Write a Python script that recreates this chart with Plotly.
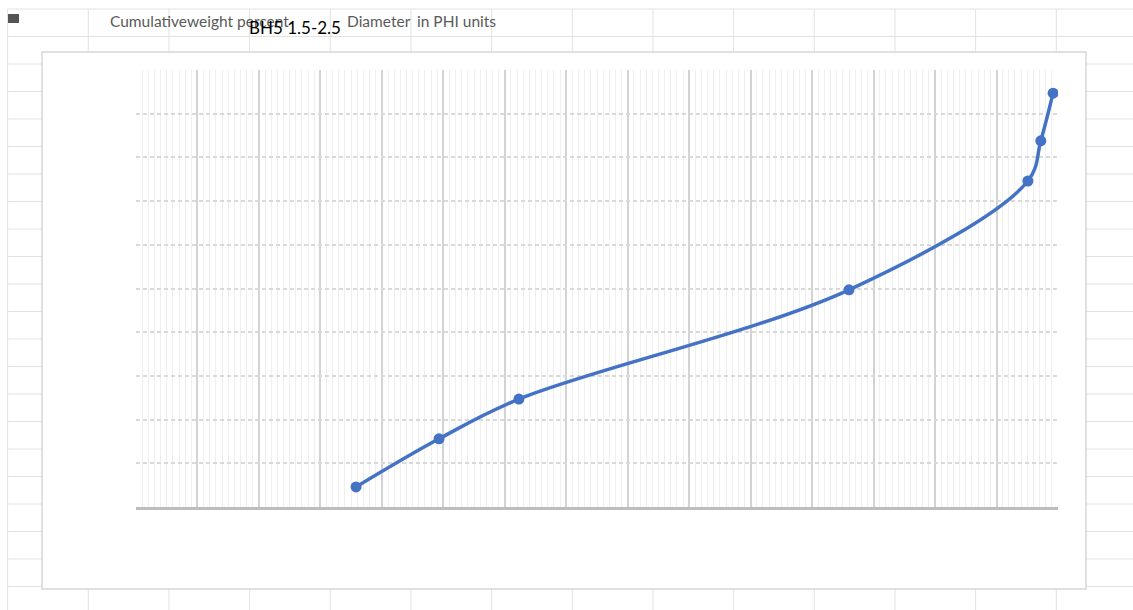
import plotly.graph_objects as go

W, H = 1133, 610

# ---- data (axis has no visible labels) ----
x_values = [3.58, 4.93, 6.23, 11.60, 14.51, 14.72, 14.92]
y_values = [4.6, 15.6, 24.7, 49.7, 74.6, 83.8, 94.7]
x_range = [0, 15]
y_range = [0, 100]
y_grid = [0, 10, 20, 30, 40, 50, 60, 70, 80, 90]

chart_title = "BH5 1.5-2.5"
cell_text_1 = "Cumulativeweight percent"
cell_text_2 = "Diameter"
cell_text_3 = "in PHI units"


def px(x):
    return x / W


def py(y):
    return 1 - y / H


shapes = []
sheet_line = dict(color="#e2e2e2", width=1)
# spreadsheet rows
y = 9.0
while y < H:
    shapes.append(dict(type="line", xref="paper", yref="paper", x0=px(7.6), x1=1,
                       y0=py(y), y1=py(y), line=sheet_line, layer="below"))
    y += 27.5
# spreadsheet columns
x = 7.6
while x < W:
    shapes.append(dict(type="line", xref="paper", yref="paper", x0=px(x), x1=px(x),
                       y0=py(9), y1=0, line=sheet_line, layer="below"))
    x += 80.67
# small icon top-left
shapes.append(dict(type="rect", xref="paper", yref="paper", x0=px(8), x1=px(19),
                   y0=py(23), y1=py(14), fillcolor="#555555", line=dict(width=0), layer="below"))
# chart box
shapes.append(dict(type="rect", xref="paper", yref="paper", x0=px(42), x1=px(1086),
                   y0=py(589), y1=py(52), fillcolor="white",
                   line=dict(color="#d6d6d6", width=1.5), layer="below"))

fig = go.Figure()
fig.add_trace(go.Scatter(
    x=x_values, y=y_values, mode="lines+markers",
    line=dict(color="#4472C4", width=3.5, shape="spline", smoothing=1),
    marker=dict(color="#4472C4", size=11),
    showlegend=False, hoverinfo="skip",
))

font_family = "Lato, Noto Sans, sans-serif"

fig.update_layout(
    width=W, height=H,
    margin=dict(l=0, r=0, t=0, b=0),
    paper_bgcolor="white",
    plot_bgcolor="white",
    shapes=shapes,
    xaxis=dict(
        domain=[px(136), px(1058)],
        range=x_range, dtick=1, tick0=0,
        showticklabels=False, ticks="",
        showgrid=True, gridcolor="#d3d3d3", gridwidth=2,
        minor=dict(dtick=0.1, showgrid=True, gridcolor="#efefef", gridwidth=1),
        zeroline=False,
        showline=True, linecolor="#bdbdbd", linewidth=3,
        fixedrange=True,
    ),
    yaxis=dict(
        domain=[py(507), py(70)],
        range=y_range, tickmode="array", tickvals=y_grid,
        showticklabels=False, ticks="",
        showgrid=True, gridcolor="#d9d9d9", gridwidth=2, griddash="4px,3px",
        zeroline=False, showline=False,
        fixedrange=True,
    ),
    annotations=[
        dict(text=cell_text_1, xref="paper", yref="paper", x=px(108), y=py(21),
             xanchor="left", yanchor="middle", showarrow=False,
             font=dict(family=font_family, size=15.5, color="#5a5a5a")),
        dict(text=cell_text_2, xref="paper", yref="paper", x=px(345), y=py(21),
             xanchor="left", yanchor="middle", showarrow=False,
             font=dict(family=font_family, size=15.5, color="#5a5a5a")),
        dict(text=cell_text_3, xref="paper", yref="paper", x=px(415), y=py(21),
             xanchor="left", yanchor="middle", showarrow=False,
             font=dict(family=font_family, size=15.5, color="#5a5a5a")),
        dict(text=chart_title, xref="paper", yref="paper", x=px(295), y=py(28),
             xanchor="center", yanchor="middle", showarrow=False,
             font=dict(family=font_family, size=17, color="#000000")),
    ],
)

fig.write_html("out.html")
